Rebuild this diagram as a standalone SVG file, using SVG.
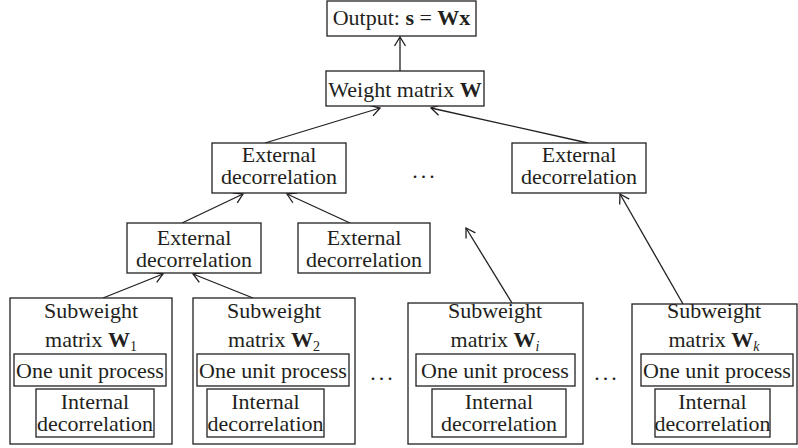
<svg xmlns="http://www.w3.org/2000/svg" width="798" height="448" viewBox="0 0 798 448">
  <defs>
    <marker id="open-arrow" markerUnits="userSpaceOnUse" markerWidth="14" markerHeight="14" viewBox="-12 -7 14 14" refX="0" refY="0" orient="auto">
      <path d="M-9,-5.5 L0,0 L-9,5.5" fill="none" stroke="#231f20" stroke-width="1.3"/>
    </marker>
    <style>
      rect { fill: #ffffff; stroke: #231f20; stroke-width: 1.3; }
      text { font-family: "Liberation Serif", "Times New Roman", serif; font-size: 22px; fill: #231f20; text-anchor: middle; }
      .b { font-weight: bold; }
      .sub { font-size: 14px; }
      .it { font-style: italic; }
      .edge { fill: none; stroke: #231f20; stroke-width: 1.3; marker-end: url(#open-arrow); }
      .dots { letter-spacing: 3px; }
    </style>
  </defs>

  <rect x="0" y="0" width="798" height="448" style="fill:#ffffff;stroke:none"/>

  <!-- connectors -->
  <g id="connectors">
    <line class="edge" x1="400" y1="71" x2="400" y2="37"/>
    <line class="edge" x1="265" y1="143" x2="380" y2="108"/>
    <line class="edge" x1="588" y1="143" x2="431" y2="108"/>
    <line class="edge" x1="182" y1="223" x2="243" y2="194"/>
    <line class="edge" x1="350" y1="223" x2="287" y2="194"/>
    <line class="edge" x1="103" y1="298" x2="163" y2="274"/>
    <line class="edge" x1="253" y1="298" x2="193" y2="274"/>
    <line class="edge" x1="512" y1="303" x2="466" y2="228"/>
    <line class="edge" x1="683" y1="304" x2="620" y2="194"/>
  </g>

  <!-- output -->
  <g id="output">
    <rect x="327" y="1" width="149" height="35"/>
    <text x="401.5" y="25">Output: <tspan class="b">s</tspan> = <tspan class="b">Wx</tspan></text>
  </g>

  <!-- weight matrix -->
  <g id="weight">
    <rect x="326" y="71" width="158" height="35"/>
    <text x="405" y="97">Weight matrix <tspan class="b">W</tspan></text>
  </g>

  <!-- external decorrelation, upper level -->
  <g id="ext-top-left">
    <rect x="212" y="143" width="134" height="50"/>
    <text x="279" y="162">External</text>
    <text x="279" y="184">decorrelation</text>
  </g>
  <g id="ext-top-right">
    <rect x="512" y="143" width="134" height="50"/>
    <text x="579" y="162">External</text>
    <text x="579" y="184">decorrelation</text>
  </g>
  <text id="dots-top" class="dots" x="425" y="178">...</text>

  <!-- external decorrelation, lower level -->
  <g id="ext-low-left">
    <rect x="127" y="223" width="134" height="50"/>
    <text x="194" y="245">External</text>
    <text x="194" y="267">decorrelation</text>
  </g>
  <g id="ext-low-mid">
    <rect x="298" y="223" width="132" height="50"/>
    <text x="364" y="245">External</text>
    <text x="364" y="267">decorrelation</text>
  </g>

  <!-- subweight matrices -->
  <g id="sub-1">
    <rect x="10" y="298" width="162" height="146"/>
    <text x="91" y="318">Subweight</text>
    <text x="91" y="347">matrix <tspan class="b">W</tspan><tspan class="sub" dy="4">1</tspan></text>
    <rect x="14" y="354" width="152" height="32"/>
    <text x="90" y="378">One unit process</text>
    <rect x="36" y="389" width="118" height="48"/>
    <text x="95" y="409">Internal</text>
    <text x="95" y="431">decorrelation</text>
  </g>
  <g id="sub-2">
    <rect x="193" y="298" width="162" height="146"/>
    <text x="274" y="318">Subweight</text>
    <text x="274" y="347">matrix <tspan class="b">W</tspan><tspan class="sub" dy="4">2</tspan></text>
    <rect x="197" y="354" width="152" height="32"/>
    <text x="273" y="378">One unit process</text>
    <rect x="207" y="389" width="117" height="48"/>
    <text x="265.5" y="409">Internal</text>
    <text x="265.5" y="431">decorrelation</text>
  </g>
  <text id="dots-mid" class="dots" x="383" y="380">...</text>
  <g id="sub-i">
    <rect x="408" y="303" width="175" height="141"/>
    <text x="495" y="318">Subweight</text>
    <text x="495" y="347">matrix <tspan class="b">W</tspan><tspan class="sub it" dy="4">i</tspan></text>
    <rect x="416" y="354" width="159" height="32"/>
    <text x="495" y="378">One unit process</text>
    <rect x="432" y="389" width="134" height="48"/>
    <text x="499" y="409">Internal</text>
    <text x="499" y="431">decorrelation</text>
  </g>
  <text id="dots-right" class="dots" x="607" y="380">...</text>
  <g id="sub-k">
    <rect x="632" y="304" width="165" height="140"/>
    <text x="714" y="318">Subweight</text>
    <text x="714" y="347">matrix <tspan class="b">W</tspan><tspan class="sub it" dy="4">k</tspan></text>
    <rect x="641" y="354" width="152" height="32"/>
    <text x="717" y="378">One unit process</text>
    <rect x="655" y="389" width="115" height="48"/>
    <text x="712.5" y="409">Internal</text>
    <text x="712.5" y="431">decorrelation</text>
  </g>
</svg>
